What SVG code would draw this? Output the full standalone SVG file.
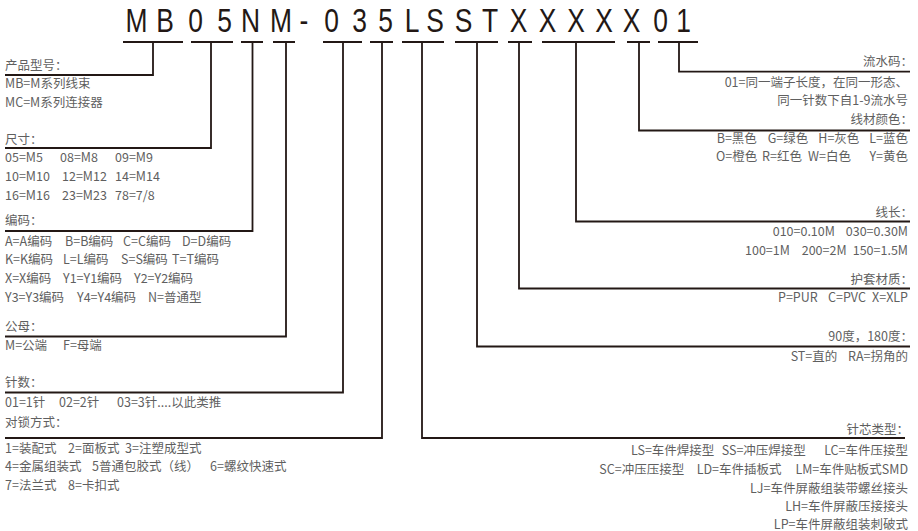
<svg xmlns="http://www.w3.org/2000/svg" width="918" height="531" viewBox="0 0 918 531">
<style>
.bg{fill:#ffffff}
.code{font-family:"Liberation Sans","Noto Sans",sans-serif;font-size:33px;fill:#231815;text-anchor:middle}
.t{font-family:"Noto Sans CJK SC","Noto Sans",sans-serif;font-size:12.5px;fill:#5f5f5f}
.r{text-anchor:end}
.ln{fill:none;stroke:#231815;stroke-width:1.8;stroke-linecap:butt;stroke-linejoin:miter}
</style>
<rect class="bg" x="0" y="0" width="918" height="531"/>
<g id="code" transform="scale(0.8,1)">
<text class="code" y="32"><tspan x="170.6">M</tspan><tspan x="206.3">B</tspan><tspan x="244.4">0</tspan><tspan x="280.6">5</tspan><tspan x="313.1">N</tspan><tspan x="351.3">M</tspan><tspan x="380">-</tspan><tspan x="414.4">0</tspan><tspan x="449.4">3</tspan><tspan x="481.9">5</tspan><tspan x="515">L</tspan><tspan x="543.8">S</tspan><tspan x="579.4">S</tspan><tspan x="612.5">T</tspan><tspan x="648.1">X</tspan><tspan x="684.4">X</tspan><tspan x="720">X</tspan><tspan x="755">X</tspan><tspan x="789.4">X</tspan><tspan x="825.6">0</tspan><tspan x="854.4">1</tspan></text>
</g>
<g id="connectors">
<path class="ln" d="M123 42H183M153 42V75H5"/>
<path class="ln" d="M191 42H233M211 42V148H5"/>
<path class="ln" d="M241 42H263M252.5 42V231H5"/>
<path class="ln" d="M273 42H295M286 42V336.5H5"/>
<path class="ln" d="M323 42H362M343 42V392.5H5"/>
<path class="ln" d="M370 42H393M382 42V438H5"/>
<path class="ln" d="M402 42H444M422 42V438H905"/>
<path class="ln" d="M455 42H498M477 42V346.5H910"/>
<path class="ln" d="M508 42H532M519 42V288.5H910"/>
<path class="ln" d="M542 42H615M576 42V221.5H910"/>
<path class="ln" d="M627 42H650M639 42V130.5H910"/>
<path class="ln" d="M658 42H698M679 42V71.7H910"/>
</g>
<g id="product-type">
<text class="t" x="5" y="70">产品型号：</text>
<text class="t" x="5" y="87.5">MB=M系列线束</text>
<text class="t" x="5" y="106.5">MC=M系列连接器</text>
</g>
<g id="size">
<text class="t" x="5" y="143.5">尺寸：</text>
<text class="t" x="5" y="161.5">05=M5</text><text class="t" x="60" y="161.5">08=M8</text><text class="t" x="115" y="161.5">09=M9</text>
<text class="t" x="5" y="180.5">10=M10</text><text class="t" x="62" y="180.5">12=M12</text><text class="t" x="115" y="180.5">14=M14</text>
<text class="t" x="5" y="199.5">16=M16</text><text class="t" x="62" y="199.5">23=M23</text><text class="t" x="115" y="199.5">78=7/8</text>
</g>
<g id="coding">
<text class="t" x="5" y="225">编码：</text>
<text class="t" x="5" y="245.5">A=A编码</text><text class="t" x="65" y="245.5">B=B编码</text><text class="t" x="123" y="245.5">C=C编码</text><text class="t" x="182" y="245.5">D=D编码</text>
<text class="t" x="5" y="264">K=K编码</text><text class="t" x="63" y="264">L=L编码</text><text class="t" x="121" y="264">S=S编码</text><text class="t" x="172" y="264">T=T编码</text>
<text class="t" x="5" y="283">X=X编码</text><text class="t" x="63" y="283">Y1=Y1编码</text><text class="t" x="134" y="283">Y2=Y2编码</text>
<text class="t" x="5" y="302">Y3=Y3编码</text><text class="t" x="77" y="302">Y4=Y4编码</text><text class="t" x="148" y="302">N=普通型</text>
</g>
<g id="gender">
<text class="t" x="5" y="330.5">公母：</text>
<text class="t" x="5" y="350">M=公端</text><text class="t" x="63" y="350">F=母端</text>
</g>
<g id="pins">
<text class="t" x="5" y="387">针数：</text>
<text class="t" x="5" y="406.5">01=1针</text><text class="t" x="59" y="406.5">02=2针</text><text class="t" x="117" y="406.5">03=3针....以此类推</text>
</g>
<g id="locking">
<text class="t" x="5" y="427">对锁方式：</text>
<text class="t" x="5" y="452.5">1=装配式</text><text class="t" x="68" y="452.5">2=面板式</text><text class="t" x="125" y="452.5">3=注塑成型式</text>
<text class="t" x="5" y="471">4=金属组装式</text><text class="t" x="92" y="471">5普通包胶式（线）</text><text class="t" x="210" y="471">6=螺纹快速式</text>
<text class="t" x="5" y="489.5">7=法兰式</text><text class="t" x="68" y="489.5">8=卡扣式</text>
</g>
<g id="serial">
<text class="t r" x="913" y="65.5">流水码：</text>
<text class="t r" x="908" y="86.5">01=同一端子长度，在同一形态、</text>
<text class="t r" x="908" y="104.5">同一针数下自1-9流水号</text>
</g>
<g id="wire-color">
<text class="t r" x="913" y="124">线材颜色：</text>
<text class="t" x="716.7" y="143">B=黑色</text><text class="t" x="767.7" y="143">G=绿色</text><text class="t" x="818.3" y="143">H=灰色</text><text class="t r" x="908" y="143">L=蓝色</text>
<text class="t" x="716" y="161">O=橙色</text><text class="t" x="762" y="161">R=红色</text><text class="t" x="808" y="161">W=白色</text><text class="t r" x="908" y="161">Y=黄色</text>
</g>
<g id="wire-length">
<text class="t r" x="913" y="217">线长：</text>
<text class="t" x="772.7" y="235.5">010=0.10M</text><text class="t r" x="908" y="235.5">030=0.30M</text>
<text class="t" x="745" y="254.5">100=1M</text><text class="t" x="801.7" y="254.5">200=2M</text><text class="t r" x="908" y="254.5">150=1.5M</text>
</g>
<g id="jacket">
<text class="t r" x="913" y="284">护套材质：</text>
<text class="t" x="778" y="301.5">P=PUR</text><text class="t" x="828" y="301.5">C=PVC</text><text class="t r" x="908" y="301.5">X=XLP</text>
</g>
<g id="angle">
<text class="t r" x="913" y="341">90度，180度：</text>
<text class="t" x="790.7" y="361">ST=直的</text><text class="t r" x="908" y="361">RA=拐角的</text>
</g>
<g id="contact-type">
<text class="t r" x="909" y="434">针芯类型：</text>
<text class="t" x="631" y="455">LS=车件焊接型</text><text class="t" x="721.7" y="455">SS=冲压焊接型</text><text class="t r" x="908" y="455">LC=车件压接型</text>
<text class="t" x="599.3" y="473.5">SC=冲压压接型</text><text class="t" x="696.7" y="473.5">LD=车件插板式</text><text class="t r" x="908" y="473.5">LM=车件贴板式SMD</text>
<text class="t r" x="908" y="492.5">LJ=车件屏蔽组装带螺丝接头</text>
<text class="t r" x="908" y="511">LH=车件屏蔽压接接头</text>
<text class="t r" x="908" y="528.5">LP=车件屏蔽组装刺破式</text>
</g>
</svg>
